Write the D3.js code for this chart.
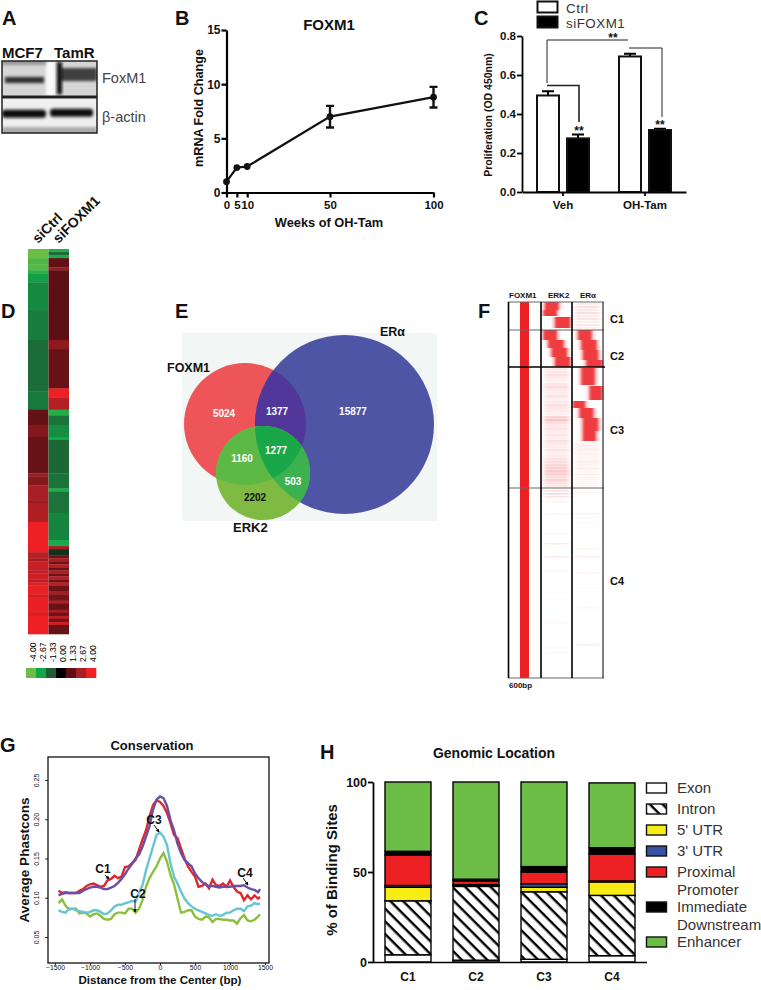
<!DOCTYPE html>
<html>
<head>
<meta charset="utf-8">
<script src="https://cdnjs.cloudflare.com/ajax/libs/d3/7.8.5/d3.min.js"></script>
<style>
  html, body { margin: 0; padding: 0; background: #fff; }
  text { font-family: "Liberation Sans", Arial, sans-serif; fill: #111; }
</style>
</head>
<body>
<div id="figure"></div>
<script>
// ---- data ----
const panelLetters = ["A", "B", "C", "D", "E", "F", "G", "H"];

// B: FOXM1 mRNA
const weeks = [0, 5, 10, 50, 100];
const foldChange = [1, 2.3, 2.4, 7, 8.8];
const foldErr = [0.1, 0.12, 0.12, 1, 0.95];

// C: proliferation
const treatments = ["Veh", "OH-Tam"];
const knockdowns = ["Ctrl", "siFOXM1"];
const prolifCtrl = [0.495, 0.695];
const prolifSi = [0.275, 0.318];
const prolifCtrlErr = [0.022, 0.014];
const prolifSiErr = [0.02, 0.006];

// D: heatmap, [rows, value] runs from top to bottom
const heatCols = ["siCtrl", "siFOXM1"];
const heatCtrl = [[3,-4],[2,-3.6],[2,-3.7],[1,-3.1],[3,-2.5],[9,-2.1],[10,-1.9],[17,-1.6],[6,-1.8],
  [5,1.4],[4,2],[12,1.5],[1,2.4],[3,2],[5,2.7],[1,2.4],[6,2.8],[10,4],[2,3],[1,2.6],[3,3.3],[1,3],[2,3.4],[1,3],[1,3.6],
  [3,3.9],[1,3.4],[5,3.9],[1,3.5],[6,4]];
const heatSi = [[1,-3],[1,-1.6],[1,-2.8],[3,1.4],[1,2.4],[23,1.3],[3,2.2],[13,1.5],[3,4],[4,2.9],
  [2,-3],[3,-1.7],[4,-2.2],[1,-2.7],[11,-1.5],[5,-1.7],[1,-2.9],[7,-1.7],[9,-2],[2,-2.8],[1,2.6],[2,-0.7],
  [1,1.6],[1,2.6],[1,1.6],[1,2.9],[1,1.5],[1,2.7],[1,1.6],[1,2.9],[1,1.6],[1,3],[2,1.6],[1,2.5],[2,1.7],[1,2.8],[2,1.5],[1,2.6],[1,1.6],[1,3],[1,1.7],[1,3.4],[3,1.5]];
const heatTicks = [-4, -2.67, -1.33, 0, 1.33, 2.67, 4];
const heatColors = ["#6cbd45", "#0fa94b", "#1f5d34", "#000000", "#5e1014", "#a81f25", "#ee2024"];

// E: overlap counts
const vennNames = ["FOXM1", "ERα", "ERK2"];
const vennCounts = [5024, 1377, 15877, 1160, 1277, 503, 2202];

// F: binding heatmap, [firstRow, lastRow, startBp, endBp]
const fColumns = ["FOXM1", "ERK2", "ERα"];
const fClusters = ["C1", "C2", "C3", "C4"];
const fClusterEnds = [28, 65, 186, 376];
const erk2Blocks = [[0,8,-220,40],[8,14,-250,5],[15,26,-25,265],[28,38,-250,5],[38,46,-155,135],[46,55,-90,200],[55,65,-25,265]];
const eraBlocks = [[28,38,-180,77],[38,48,-115,175],[48,58,-85,205],[58,65,-20,290],[66,83,-115,140],[84,98,45,290],[99,106,-280,-50],[106,116,-150,110],[116,129,-85,205],[129,139,-85,160]];
// faint signal in 3-row bins below the blocks
const erk2Haze = [.09,.11,.15,.09,.07,.12,.16,.1,.09,.13,.07,.1,.15,.12,.09,.07,.2,.25,.15,.1,.13,.09,.12,.07,.15,.1,.09,.12,.07,.1,.13,.15,.18,.2,.24,.22,.16,.2,.13,.1];
const eraHaze = [.05,.08,.1,.06,.12,.08,.06,.1,.06,.08,.05,.07,.1,.06,.08,.05,.1,.06,.04,.06,.08,.04,.05,.06,.03,.05,.04,.06];
const eraTopHaze = [.08,.14,.1,.16,.09,.13,.07,.11,.06];
const erk2Sparse = [[188,.16],[191,.2],[194,.12],[199,.06],[211,.05],[231,.05],[241,.1],[254,.1],[268,.03],[296,.03],[320,.04],[345,.03],[350,.03]];
const eraSparse = [[190,.05],[211,.06],[215,.04],[254,.08],[270,.06],[285,.03],[305,.04],[342,.08],[220,.04],[246,.05]];

// G: conservation profiles
const distance = d3.range(-1450, 1450, 50).concat([1430]);
const consC1 = [.109,.106,.107,.106,.106,.106,.109,.111,.115,.117,.118,.116,.114,.115,.122,.124,.128,.125,.127,.139,.140,.144,.148,.161,.174,.186,.203,.218,.224,.222,.217,.208,.195,.180,.176,.163,.150,.140,.133,.127,.114,.115,.118,.112,.123,.116,.115,.118,.114,.122,.114,.108,.106,.097,.103,.098,.103,.099,.101];
const consC2 = [.093,.098,.090,.085,.086,.086,.080,.081,.080,.076,.079,.080,.077,.073,.072,.073,.079,.081,.081,.080,.086,.086,.081,.086,.097,.114,.125,.133,.140,.150,.157,.146,.129,.117,.099,.081,.082,.084,.084,.076,.073,.072,.076,.075,.069,.073,.073,.072,.072,.071,.071,.067,.074,.078,.071,.070,.072,.076,.079];
const consC3 = [.084,.082,.081,.086,.086,.084,.083,.082,.081,.082,.084,.084,.082,.079,.080,.084,.089,.091,.091,.093,.094,.096,.095,.106,.116,.135,.150,.165,.180,.183,.178,.167,.144,.127,.118,.108,.099,.093,.089,.086,.084,.082,.080,.078,.077,.079,.077,.078,.081,.081,.084,.086,.086,.083,.089,.090,.093,.092,.092];
const consC4 = [.103,.105,.106,.106,.106,.106,.106,.109,.111,.113,.114,.114,.113,.111,.111,.113,.115,.119,.124,.130,.137,.143,.150,.155,.165,.178,.191,.212,.225,.229,.227,.217,.199,.186,.169,.157,.148,.144,.140,.131,.125,.120,.117,.115,.115,.114,.113,.114,.114,.114,.115,.115,.115,.116,.113,.111,.110,.107,.111];

// H: genomic location
const locClusters = ["C1", "C2", "C3", "C4"];
const locLabels = ["Exon", "Intron", "5' UTR", "3' UTR", "Proximal\nPromoter", "Immediate\nDownstream", "Enhancer"];
const locC1 = [4, 30, 7.5, 1, 17, 2, 38.5];
const locC2 = [1, 41, 0.5, 0.5, 2, 1, 54];
const locC3 = [1.5, 37.5, 2.5, 2, 6.5, 3, 47];
const locC4 = [3.5, 33.5, 7.5, 0.5, 15, 3.5, 36];

// ---- page ----
const svg = d3.select("#figure").append("svg").attr("width", 761).attr("height", 990).style("display", "block");
const defs = svg.append("defs");

function blur(id, dx, dy) {
  defs.append("filter").attr("id", id).attr("x", "-30%").attr("y", "-60%").attr("width", "160%").attr("height", "220%")
    .append("feGaussianBlur").attr("stdDeviation", dx + " " + dy);
}
blur("soft", 0.8, 0.5);
blur("halo", 1.6, 0.6);
blur("band", 1.6, 1.8);

const hatch = defs.append("pattern").attr("id", "hatch").attr("patternUnits", "userSpaceOnUse")
  .attr("width", 9).attr("height", 9).attr("patternTransform", "rotate(45)");
hatch.append("rect").attr("width", 9).attr("height", 9).attr("fill", "#fff");
hatch.append("rect").attr("width", 9).attr("height", 2.4).attr("fill", "#000");

const letterSpots = [[2, 25], [175, 25], [474, 25], [1, 318], [175, 318], [478, 318], [0, 752], [320, 759]];
svg.selectAll("text.letter").data(panelLetters).enter().append("text").attr("class", "letter")
  .attr("x", (d, i) => letterSpots[i][0]).attr("y", (d, i) => letterSpots[i][1])
  .attr("font-size", 20).attr("font-weight", "bold").text(d => d);

function label(x, y, txt, size, bold, anchor, rot) {
  const t = svg.append("text").attr("x", x).attr("y", y).attr("font-size", size)
    .attr("font-weight", bold ? "bold" : "normal").attr("text-anchor", anchor || "start").text(txt);
  if (rot) t.attr("transform", `rotate(${rot} ${x} ${y})`);
  return t;
}

function styleAxis(g, w, size, bold) {
  g.selectAll("path,line").attr("stroke", "#000").attr("stroke-width", w);
  g.selectAll("text").attr("font-size", size).attr("font-weight", bold ? "bold" : "normal")
    .attr("font-family", '"Liberation Sans", Arial, sans-serif').attr("fill", "#111");
}

// ---- A: blots ----
const blotRows = d3.scaleBand().domain(["FoxM1", "β-actin"]).range([61, 133]).paddingInner(0.04);
blotRows.domain().forEach((name, r) => {
  const y0 = blotRows(name), h = blotRows.bandwidth();
  const clipId = "blot" + r;
  defs.append("clipPath").attr("id", clipId).append("rect").attr("x", 2).attr("y", y0).attr("width", 95).attr("height", h);
  const g = svg.append("g").attr("clip-path", `url(#${clipId})`);
  g.append("rect").attr("x", 2).attr("y", y0).attr("width", 95).attr("height", h).attr("fill", r ? "#efefef" : "#d6d6d6");
  if (r === 0) {
    g.append("rect").attr("x", 46).attr("y", y0).attr("width", 9).attr("height", h).attr("fill", "#fafafa").attr("filter", "url(#band)");
    g.append("rect").attr("x", 2).attr("y", y0 - 2).attr("width", 44).attr("height", 6).attr("fill", "#999").attr("filter", "url(#band)");
    g.append("rect").attr("x", 5).attr("y", y0 + 16).attr("width", 39).attr("height", 6).attr("fill", "#2f2f2f").attr("filter", "url(#band)");
    g.append("rect").attr("x", 60).attr("y", y0 + 7).attr("width", 37).attr("height", 13).attr("fill", "#404040").attr("filter", "url(#band)");
    g.append("rect").attr("x", 57).attr("y", y0 + 1).attr("width", 5).attr("height", h - 3).attr("fill", "#111").attr("filter", "url(#band)");
  } else {
    g.append("rect").attr("x", 2).attr("y", y0 + h - 6).attr("width", 95).attr("height", 8).attr("fill", "#aaa").attr("filter", "url(#band)");
    g.append("rect").attr("x", 2).attr("y", y0 + 12).attr("width", 44).attr("height", 8).attr("rx", 3).attr("fill", "#0a0a0a").attr("filter", "url(#band)");
    g.append("rect").attr("x", 50).attr("y", y0 + 11).attr("width", 43).attr("height", 8).attr("rx", 3).attr("fill", "#0a0a0a").attr("filter", "url(#band)");
  }
  svg.append("rect").attr("x", 2).attr("y", y0).attr("width", 95).attr("height", h).attr("fill", "none").attr("stroke", "#222").attr("stroke-width", 1.5);
  label(102, y0 + (r ? 24 : 22), name, 14.5, false).style("fill", "#444");
});
label(2, 58, "MCF7", 15, true);
label(54, 58, "TamR", 15, true);

// ---- B: line with error bars ----
const xB = d3.scaleLinear().domain([0, 100]).range([226.5, 433.5]);
const yB = d3.scaleLinear().domain([0, 15]).range([192.5, 30]);
const axisB = svg.append("g").attr("transform", "translate(0,192.5)")
  .call(d3.axisBottom(xB).tickValues(weeks).tickSize(5).tickPadding(3).tickSizeOuter(0));
styleAxis(axisB, 2.2, 11.5, true);
const axisBy = svg.append("g").attr("transform", "translate(226.5,0)")
  .call(d3.axisLeft(yB).tickValues([0, 5, 10, 15]).tickSize(5).tickPadding(1).tickSizeOuter(0));
styleAxis(axisBy, 2.2, 12, true);
svg.append("path").datum(weeks).attr("fill", "none").attr("stroke", "#111").attr("stroke-width", 2.2)
  .attr("d", d3.line().x(d => xB(d)).y((d, i) => yB(foldChange[i])));
weeks.forEach((w, i) => {
  const x = xB(w);
  svg.append("circle").attr("cx", x).attr("cy", yB(foldChange[i])).attr("r", 3.4).attr("fill", "#111");
  if (foldErr[i] > 0.5) {
    const path = `M${x - 4},${yB(foldChange[i] + foldErr[i])}h8M${x},${yB(foldChange[i] + foldErr[i])}V${yB(foldChange[i] - foldErr[i])}M${x - 4},${yB(foldChange[i] - foldErr[i])}h8`;
    svg.append("path").attr("d", path).attr("stroke", "#111").attr("stroke-width", 2.4).attr("fill", "none");
  }
});
label(329, 30, "FOXM1", 15, true, "middle");
label(329, 227, "Weeks of OH-Tam", 12.8, true, "middle");
label(203, 108, "mRNA Fold Change", 12.6, true, "middle", -90);

// ---- C: bars ----
const xC = d3.scaleBand().domain(treatments).range([522, 686]);
const xCi = d3.scaleBand().domain(knockdowns).range([15, 67]).paddingInner(0.267);
const yC = d3.scaleLinear().domain([0, 0.8]).range([192, 36]);
[prolifCtrl, prolifSi].forEach((vals, k) => {
  const errs = k ? prolifSiErr : prolifCtrlErr;
  treatments.forEach((t, i) => {
    const x = xC(t) + xCi(knockdowns[k]), w = xCi.bandwidth();
    const cx = x + w / 2;
    svg.append("path").attr("d", `M${cx},${yC(vals[i])}V${yC(vals[i] + errs[i])}M${cx - 6},${yC(vals[i] + errs[i])}h12`)
      .attr("stroke", "#000").attr("stroke-width", 2).attr("fill", "none");
    svg.append("rect").attr("x", x).attr("y", yC(vals[i])).attr("width", w).attr("height", yC(0) - yC(vals[i]))
      .attr("fill", k ? "#000" : "#fff").attr("stroke", "#111").attr("stroke-width", 2);
  });
});
const axisCx = svg.append("g").attr("transform", "translate(0,192)")
  .call(d3.axisBottom(xC).tickSize(4).tickPadding(5).tickSizeOuter(0));
styleAxis(axisCx, 1.8, 11.5, true);
const axisCy = svg.append("g").attr("transform", "translate(522,0)")
  .call(d3.axisLeft(yC).tickValues([0, 0.2, 0.4, 0.6, 0.8]).tickFormat(d3.format(".1f")).tickSize(5).tickPadding(1).tickSizeOuter(0));
styleAxis(axisCy, 1.8, 11.5, true);
label(492, 115, "Proliferation (OD 450nm)", 10.5, true, "middle", -90);
knockdowns.forEach((name, i) => {
  svg.append("rect").attr("x", 537.5).attr("y", 1.5 + i * 15).attr("width", 20).attr("height", 11)
    .attr("fill", i ? "#000" : "#fff").attr("stroke", "#111").attr("stroke-width", 2);
  label(566, 12.5 + i * 15, name, 13.4, false).style("fill", "#333").style("letter-spacing", "0.5px");
});
svg.append("path").attr("d", "M547,83V40H628").attr("stroke", "#222").attr("stroke-width", 1).attr("fill", "none");
svg.append("path").attr("d", "M547,85.5H579V122").attr("stroke", "#222").attr("stroke-width", 1.6).attr("fill", "none");
svg.append("path").attr("d", "M629,48H662V117").attr("stroke", "#222").attr("stroke-width", 1).attr("fill", "none");
label(613, 42, "**", 12, true, "middle");
label(579, 135, "**", 12, true, "middle");
label(660, 129, "**", 12, true, "middle");

// ---- D: expression heatmap ----
const heatColor = d3.scaleLinear().domain(heatTicks).range(heatColors);
const xD = d3.scaleBand().domain(heatCols).range([28, 69]);
[heatCtrl, heatSi].forEach((runs, k) => {
  const total = d3.sum(runs, d => d[0]);
  const yD = d3.scaleLinear().domain([0, total]).range([249, 634]);
  let row = 0;
  runs.forEach(run => {
    svg.append("rect").attr("x", xD(heatCols[k])).attr("y", yD(row)).attr("width", xD.bandwidth())
      .attr("height", yD(row + run[0]) - yD(row) + 0.3).attr("fill", heatColor(run[1]));
    row += run[0];
  });
  label(xD(heatCols[k]) + 10, 244, heatCols[k], 14, true, "start", -45);
});
const xKey = d3.scaleBand().domain(heatTicks).range([26, 96]);
heatTicks.forEach((v, i) => {
  svg.append("rect").attr("x", xKey(v)).attr("y", 668).attr("width", xKey.bandwidth() + 0.3).attr("height", 10).attr("fill", heatColors[i]);
  label(xKey(v) + 9.8, 662, v.toFixed(2), 8.6, false, "start", -90).style("fill", "#000");
});

// ---- E: venn ----
const foxCircle = {cx: 245, cy: 424, r: 61};
const eraCircle = {cx: 344.5, cy: 424.5, r: 89.5};
const erkCircle = {cx: 263, cy: 473, r: 47};
svg.append("rect").attr("x", 182).attr("y", 333).attr("width", 255).attr("height", 188).attr("fill", "#f2f6f4");
[["vFox", foxCircle], ["vEra", eraCircle], ["vErk", erkCircle]].forEach(([id, c]) => {
  defs.append("clipPath").attr("id", id).append("circle").attr("cx", c.cx).attr("cy", c.cy).attr("r", c.r);
});
function vennRegion(circle, color, clips) {
  let parent = svg;
  clips.forEach(id => { parent = parent.append("g").attr("clip-path", `url(#${id})`); });
  parent.append("circle").attr("cx", circle.cx).attr("cy", circle.cy).attr("r", circle.r).attr("fill", color);
}
vennRegion(foxCircle, "#ee5559", []);
vennRegion(eraCircle, "#4f55a5", []);
vennRegion(eraCircle, "#51379a", ["vFox"]);
vennRegion(erkCircle, "#7fbb42", []);
vennRegion(erkCircle, "#5db946", ["vFox"]);
vennRegion(erkCircle, "#3cb14f", ["vEra"]);
vennRegion(erkCircle, "#19a74a", ["vFox", "vEra"]);
const vennSpots = [[224, 417], [277, 415], [353, 415], [242, 462], [276, 454], [293, 485], [255, 501]];
vennCounts.forEach((n, i) => {
  label(vennSpots[i][0], vennSpots[i][1], n, 10, true, "middle").style("fill", i === 6 ? "#111" : "#fff");
});
label(167, 372, vennNames[0], 12.5, true);
label(380, 336, vennNames[1], 12.5, true);
label(233, 532, vennNames[2], 13, true);

// ---- F: binding heatmap ----
const fLeft = c => c === "FOXM1" ? 508 : c === "ERK2" ? 541 : 572;
const fRight = c => c === "FOXM1" ? 541 : c === "ERK2" ? 572 : 603;
const rowF = d3.scaleLinear().domain([0, 376]).range([302, 678]);
const bpF = c => d3.scaleLinear().domain([-300, 300]).range([fLeft(c), fRight(c)]);
const red = "#ed2024";

const hazeGrad = defs.append("linearGradient").attr("id", "haze");
[[0, 0.25], [0.2, 1], [0.8, 1], [1, 0.25]].forEach(([o, a]) => {
  hazeGrad.append("stop").attr("offset", o).attr("stop-color", red).attr("stop-opacity", a);
});
function stripe(col, row, n, op) {
  svg.append("rect").attr("x", fLeft(col) + 1).attr("y", rowF(row)).attr("width", fRight(col) - fLeft(col) - 2)
    .attr("height", rowF(row + n) - rowF(row)).attr("fill", "url(#haze)").attr("opacity", op);
}
erk2Haze.forEach((op, i) => stripe("ERK2", 66 + i * 3, 2.7, op));
eraHaze.forEach((op, i) => stripe("ERα", 140 + i * 1.6, 1.2, op));
eraTopHaze.forEach((op, i) => stripe("ERα", 1 + i * 3, 2.2, op));
erk2Sparse.forEach(d => stripe("ERK2", d[0], 1.5, d[1]));
eraSparse.forEach(d => stripe("ERα", d[0], 1.5, d[1]));

// pale shoulder under each block, then the block
const fHalo = svg.append("g").attr("filter", "url(#halo)");
const fBlocks = svg.append("g").attr("filter", "url(#soft)");
[["ERK2", erk2Blocks], ["ERα", eraBlocks]].forEach(([col, blocks]) => {
  const sx = bpF(col);
  blocks.forEach(b => {
    const lo = Math.max(sx(b[2] - 45), fLeft(col) + 1), hi = Math.min(sx(b[3] + 45), fRight(col) - 1);
    fHalo.append("rect").attr("x", lo).attr("y", rowF(b[0])).attr("width", hi - lo)
      .attr("height", rowF(b[1]) - rowF(b[0])).attr("fill", red).attr("opacity", 0.3);
    fBlocks.append("rect").attr("x", sx(b[2])).attr("y", rowF(b[0])).attr("width", sx(b[3]) - sx(b[2]))
      .attr("height", rowF(b[1]) - rowF(b[0])).attr("fill", red).attr("opacity", 0.82);
  });
});
svg.append("rect").attr("x", bpF("FOXM1")(-82)).attr("y", 302).attr("width", bpF("FOXM1")(82) - bpF("FOXM1")(-82))
  .attr("height", 376).attr("fill", red);
fClusterEnds.forEach((end, i) => {
  svg.append("line").attr("x1", 508).attr("x2", i === 1 ? 605 : 604).attr("y1", rowF(end)).attr("y2", rowF(end))
    .attr("stroke", i === 1 ? "#000" : "#666").attr("stroke-width", i === 1 ? 1.4 : 1.2);
});
svg.append("line").attr("x1", 508).attr("x2", 604).attr("y1", 302).attr("y2", 302).attr("stroke", "#666");
[508.5, 541, 572, 603].forEach((x, i) => {
  svg.append("line").attr("x1", x).attr("x2", x).attr("y1", 302).attr("y2", 678).attr("stroke", "#000")
    .attr("stroke-width", i === 3 ? 1 : 1.6);
});
label(509, 298, fColumns[0], 8, true);
label(548, 298, fColumns[1], 8, true);
label(580, 298, fColumns[2], 8, true);
label(509, 688, "600bp", 8, true);
const clusterSpots = [323, 360, 434, 585];
fClusters.forEach((c, i) => label(610, clusterSpots[i], c, 11, true));

// ---- G: conservation ----
const xG = d3.scaleLinear().domain([-1500, 1500]).range([55, 265]);
const yG = d3.scaleLinear().domain([0.05, 0.25]).range([937, 780]);
svg.append("rect").attr("x", 48).attr("y", 757).attr("width", 221).attr("height", 206)
  .attr("fill", "#fff").attr("stroke", "#111").attr("stroke-width", 1.3);
const axisGx = svg.append("g").attr("transform", "translate(0,963)")
  .call(d3.axisBottom(xG).tickValues([-1500, -1000, -500, 0, 500, 1000, 1500]).tickFormat(d => d < 0 ? "\u2212" + (-d) : d).tickSize(2).tickPadding(0).tickSizeOuter(0));
styleAxis(axisGx, 0.8, 6.8, false);
axisGx.select("path").remove();
const axisGy = svg.append("g").attr("transform", "translate(48,0)")
  .call(d3.axisLeft(yG).tickValues([0.05, 0.1, 0.15, 0.2, 0.25]).tickFormat(d3.format(".2f")).tickSize(3).tickSizeOuter(0));
styleAxis(axisGy, 0.8, 7, false);
axisGy.select("path").remove();
axisGy.selectAll("text").attr("transform", "rotate(-90)").attr("x", 0).attr("y", -9).attr("dy", 0).attr("text-anchor", "middle");
const consLine = d3.line().x((d, i) => xG(distance[i])).y(d => yG(d));
[[consC2, "#8dbf3f"], [consC3, "#64c5d3"], [consC1, "#e0262e"], [consC4, "#6b4fa0"]].forEach(([vals, color]) => {
  svg.append("path").datum(vals).attr("fill", "none").attr("stroke", color).attr("stroke-width", 2.4).attr("d", consLine);
});
label(152, 750, "Conservation", 13, true, "middle");
label(29, 860, "Average Phastcons", 13.5, true, "middle", -90);
label(160, 984, "Distance from the Center (bp)", 11.6, true, "middle");
defs.append("marker").attr("id", "tip").attr("viewBox", "0 0 6 6").attr("refX", 5).attr("refY", 3)
  .attr("markerWidth", 4).attr("markerHeight", 4).attr("orient", "auto")
  .append("path").attr("d", "M0,0L6,3L0,6z").attr("fill", "#000");
[["C1", 103, 873, 105, 875, 109, 879], ["C2", 138, 898, 135, 899, 135, 912], ["C3", 154, 824, 154, 825, 159, 832], ["C4", 245, 877, 243, 878, 248, 885]].forEach(a => {
  label(a[1], a[2], a[0], 12, true, "middle");
  svg.append("line").attr("x1", a[3]).attr("y1", a[4]).attr("x2", a[5]).attr("y2", a[6])
    .attr("stroke", "#000").attr("stroke-width", 0.9).attr("marker-end", "url(#tip)");
});

// ---- H: stacked bars ----
const locColors = ["#fff", "url(#hatch)", "#f7ec13", "#3953a4", "#ed2024", "#000", "#6cbd45"];
const xH = d3.scaleBand().domain(locClusters).range([385, 635]).paddingInner(0.324);
const yH = d3.scaleLinear().domain([0, 100]).range([962, 782]);
[locC1, locC2, locC3, locC4].forEach((vals, c) => {
  let acc = 0;
  vals.forEach((v, i) => {
    svg.append("rect").attr("x", xH(locClusters[c])).attr("y", yH(acc + v)).attr("width", xH.bandwidth())
      .attr("height", yH(acc) - yH(acc + v)).attr("fill", locColors[i]).attr("stroke", "#000").attr("stroke-width", 1.4);
    acc += v;
  });
});
const axisHx = svg.append("g").attr("transform", "translate(0,962)")
  .call(d3.axisBottom(xH).tickSize(0).tickPadding(10));
styleAxis(axisHx, 1.6, 12, true);
axisHx.select("path").attr("d", "M373,0.5H647");
const axisHy = svg.append("g").attr("transform", "translate(373,0)")
  .call(d3.axisLeft(yH).tickValues([0, 50, 100]).tickSize(5).tickPadding(1).tickSizeOuter(0));
styleAxis(axisHy, 1.8, 12.5, true);
label(494, 758, "Genomic Location", 14, true, "middle");
label(337, 870, "% of Binding Sites", 15, true, "middle", -90);
const legendRows = [788, 809, 830, 851, 872, 907, 942];
locLabels.forEach((name, i) => {
  svg.append("rect").attr("x", 646.5).attr("y", legendRows[i] - 5).attr("width", 20).attr("height", 10)
    .attr("fill", locColors[i]).attr("stroke", "#111").attr("stroke-width", 1.4);
  name.split("\n").forEach((p, j) => label(677, legendRows[i] + 5 + j * 18, p, 15, false).style("fill", "#333"));
});
</script>
</body>
</html>
